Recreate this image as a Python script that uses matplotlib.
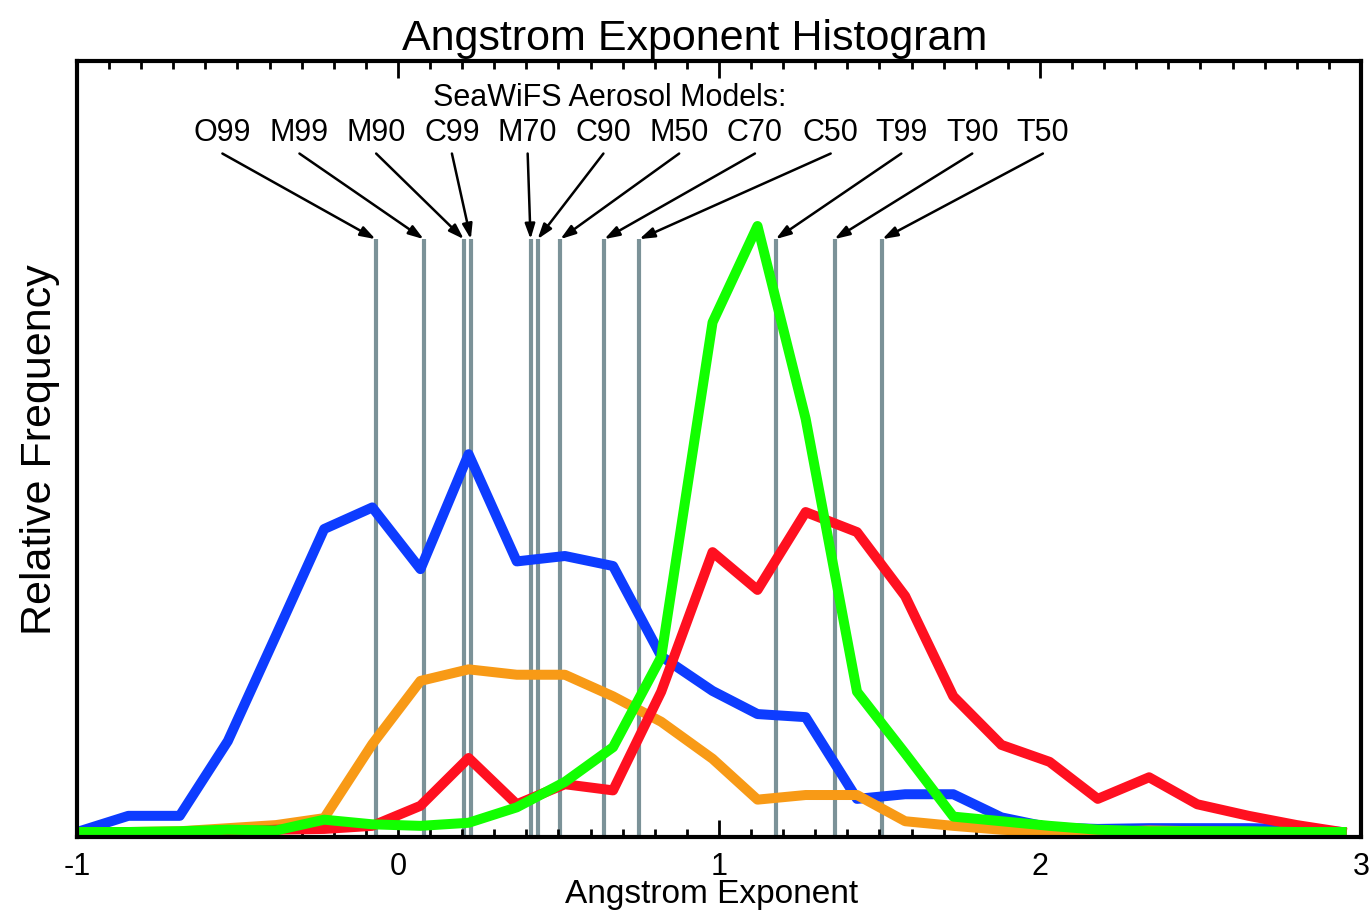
import matplotlib
matplotlib.use("Agg")
import matplotlib.pyplot as plt
from matplotlib.ticker import MultipleLocator

plt.rcParams["font.family"] = ["Liberation Sans", "DejaVu Sans"]

# bin positions (Angstrom exponent)
ae_bins = [-1.0, -0.84, -0.68, -0.53, -0.38, -0.23, -0.08, 0.07, 0.22, 0.37,
           0.52, 0.67, 0.82, 0.98, 1.12, 1.27, 1.43, 1.58, 1.73, 1.88,
           2.03, 2.18, 2.34, 2.49, 2.65, 2.80, 2.94]

# relative frequency, arbitrary units
freq_blue = [0.0, 2.1, 2.1, 11.8, 25.5, 39.3, 42.1, 34.1, 49.0, 35.1,
             35.8, 34.5, 22.8, 18.3, 15.3, 14.9, 4.3, 4.9, 4.9, 1.9,
             0.6, 0.4, 0.5, 0.5, 0.5, 0.4, 0.0]
freq_orange = [0.0, 0.0, 0.1, 0.5, 0.9, 1.8, 11.4, 19.6, 21.1, 20.4,
               20.4, 17.6, 14.3, 9.5, 4.2, 4.8, 4.8, 1.4, 0.8, 0.3,
               0.0, 0.0, 0.2, 0.1, 0.0, 0.0, 0.0]
freq_red = [0.0, 0.0, 0.0, 0.0, 0.3, 0.4, 0.8, 3.4, 9.6, 3.6,
            6.2, 5.4, 18.2, 36.3, 31.4, 41.5, 38.9, 30.6, 17.6, 11.3,
            9.1, 4.3, 7.1, 3.6, 2.1, 0.9, 0.0]
freq_green = [0.0, 0.0, 0.1, 0.3, 0.2, 1.6, 1.0, 0.8, 1.2, 3.2,
              6.5, 11.0, 22.7, 66.1, 78.6, 53.6, 18.2, 10.2, 2.0, 1.4,
              0.8, 0.3, 0.1, 0.1, 0.1, 0.0, 0.0]

# SeaWiFS aerosol models and their Angstrom exponents
model_names = ["O99", "M99", "M90", "C99", "M70", "C90",
               "M50", "C70", "C50", "T99", "T90", "T50"]
model_ae = [-0.07, 0.08, 0.205, 0.227, 0.413, 0.435,
            0.506, 0.643, 0.752, 1.177, 1.36, 1.509]
label_x = [-0.547, -0.307, -0.068, 0.168, 0.404, 0.640,
           0.876, 1.112, 1.348, 1.568, 1.789, 2.009]

fig = plt.figure(figsize=(13.7, 9.12), dpi=100)
ax = fig.add_axes([0.0562, 0.0811, 0.9372, 0.8509])

ax.vlines(model_ae, -0.65, 76.9, color="#7b9298", lw=3.0, zorder=1)

ax.plot(ae_bins, freq_blue, color="#0d3cff", lw=7.2, zorder=2)
ax.plot(ae_bins, freq_orange, color="#f89a16", lw=7.2, zorder=3)
ax.plot(ae_bins, freq_red, color="#ff1020", lw=7.2, zorder=4)
ax.plot(ae_bins, freq_green, color="#12ff00", lw=7.2, zorder=5)

ax.text(0.659, 95.3, "SeaWiFS Aerosol Models:", ha="center", va="center",
        fontsize=22)
for name, ae, lx in zip(model_names, model_ae, label_x):
    ax.text(lx, 90.8, name, ha="center", va="center", fontsize=22)
    ax.annotate("", xy=(ae, 76.9), xytext=(lx, 88.0),
                arrowprops=dict(arrowstyle="-|>,head_length=0.9,head_width=0.3",
                                color="black", lw=1.8, shrinkA=0, shrinkB=0))

ax.set_xlim(-1, 3)
ax.set_ylim(-0.65, 100)
ax.set_yticks([])
ax.set_xticks([-1, 0, 1, 2, 3])
ax.set_xticklabels(["-1", "0", "1", "2", "3"])
ax.xaxis.set_minor_locator(MultipleLocator(0.1))
ax.tick_params(axis="x", which="both", direction="in", top=True,
               width=2.0, labelsize=22, pad=10)
ax.tick_params(axis="x", which="major", length=12)
ax.tick_params(axis="x", which="minor", length=6)
for s in ax.spines.values():
    s.set_linewidth(3.0)
    s.set_zorder(10)

ax.set_title("Angstrom Exponent Histogram", fontsize=31, pad=9, x=0.481)
ax.set_xlabel("Angstrom Exponent", fontsize=24, labelpad=-2, x=0.494)
ax.set_ylabel("Relative Frequency", fontsize=31, labelpad=12)

fig.savefig("out.png", dpi=100)
